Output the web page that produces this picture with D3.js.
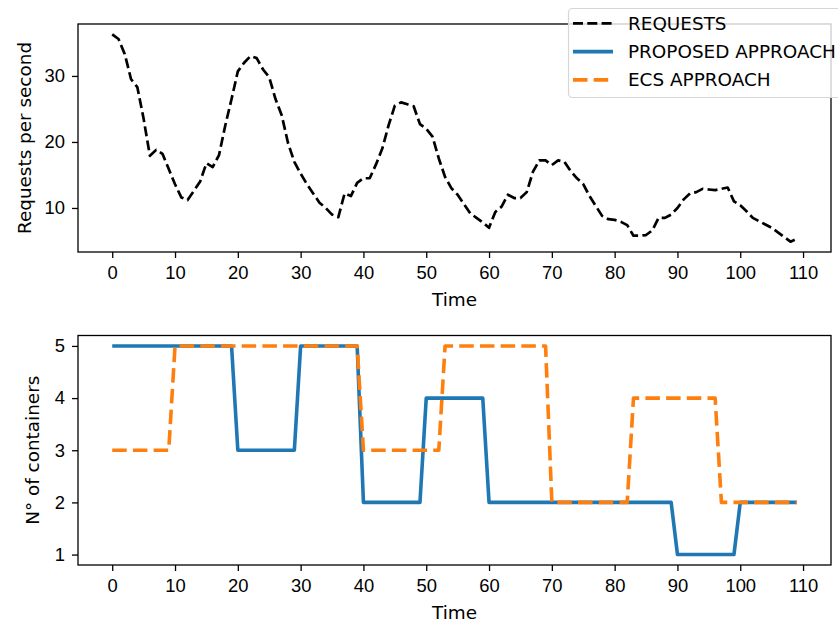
<!DOCTYPE html>
<html>
<head>
<meta charset="utf-8">
<script src="https://cdn.jsdelivr.net/npm/d3@7"></script>
<style>
    body { margin: 0; background: #fff; }
    svg { display: block; font-family: "DejaVu Sans", sans-serif; }
    .tick text { font-size: 18.4px; fill: #000; }
    .tick line { stroke: #000; stroke-width: 1.3; }
</style>
</head>
<body>
<div class="chart-container"></div>
<script>
/* data: time steps 0..109 */
const requests = [
    36.3, 35.6, 33.3, 29.5, 28.3, 23.5, 17.9, 18.8, 18.2, 15.9,
    13.6, 11.6, 11.2, 12.6, 14.0, 16.8, 16.2, 18.0, 22.5, 26.5,
    30.7, 32.0, 33.0, 32.7, 31.0, 29.8, 26.5, 24.0, 19.8, 17.0,
    15.2, 13.6, 12.2, 10.8, 10.0, 9.0, 8.6, 12.2, 11.8, 13.8,
    14.5, 14.5, 16.6, 19.0, 22.5, 25.5, 26.0, 25.7, 25.4, 22.7,
    22.0, 20.8, 17.5, 14.7, 13.0, 12.0, 10.6, 9.2, 8.5, 7.8,
    7.0, 9.4, 10.2, 12.0, 11.5, 11.5, 12.4, 15.5, 17.2, 17.2,
    16.5, 17.2, 17.0, 15.6, 14.5, 13.6, 11.8, 10.3, 8.8, 8.3,
    8.2, 7.9, 7.4, 5.8, 5.8, 5.9, 6.6, 8.5, 8.5, 9.0,
    10.0, 11.3, 12.2, 12.4, 12.9, 12.8, 12.7, 12.9, 13.1, 11.0,
    10.4, 9.5, 8.5, 8.0, 7.5, 7.0, 6.3, 5.6, 4.9, 5.3
];
const proposed = [
    5, 5, 5, 5, 5, 5, 5, 5, 5, 5,
    5, 5, 5, 5, 5, 5, 5, 5, 5, 5,
    3, 3, 3, 3, 3, 3, 3, 3, 3, 3,
    5, 5, 5, 5, 5, 5, 5, 5, 5, 5,
    2, 2, 2, 2, 2, 2, 2, 2, 2, 2,
    4, 4, 4, 4, 4, 4, 4, 4, 4, 4,
    2, 2, 2, 2, 2, 2, 2, 2, 2, 2,
    2, 2, 2, 2, 2, 2, 2, 2, 2, 2,
    2, 2, 2, 2, 2, 2, 2, 2, 2, 2,
    1, 1, 1, 1, 1, 1, 1, 1, 1, 1,
    2, 2, 2, 2, 2, 2, 2, 2, 2, 2
];
const ecs = [
    3, 3, 3, 3, 3, 3, 3, 3, 3, 3,
    5, 5, 5, 5, 5, 5, 5, 5, 5, 5,
    5, 5, 5, 5, 5, 5, 5, 5, 5, 5,
    5, 5, 5, 5, 5, 5, 5, 5, 5, 5,
    3, 3, 3, 3, 3, 3, 3, 3, 3, 3,
    3, 3, 3, 5, 5, 5, 5, 5, 5, 5,
    5, 5, 5, 5, 5, 5, 5, 5, 5, 5,
    2, 2, 2, 2, 2, 2, 2, 2, 2, 2,
    2, 2, 2, 4, 4, 4, 4, 4, 4, 4,
    4, 4, 4, 4, 4, 4, 4, 2, 2, 2,
    2, 2, 2, 2, 2, 2, 2, 2, 2, 2
];
const xTicks = [0, 10, 20, 30, 40, 50, 60, 70, 80, 90, 100, 110];
const topYTicks = [10, 20, 30];
const bottomYTicks = [1, 2, 3, 4, 5];
const legendLabels = ["REQUESTS", "PROPOSED APPROACH", "ECS APPROACH"];
const legendColors = ["#000000", "#1f77b4", "#ff7f0e"];

const svg_width = 838;
const svg_height = 624;

const svg = d3.select(".chart-container").append("svg")
    .attr("width", svg_width)
    .attr("height", svg_height);

/* matplotlib-style padded domain */
function padded(ext) {
    const r = ext[1] - ext[0];
    return [ext[0] - r * 0.05, ext[1] + r * 0.05];
}

const times = requests.map((d, i) => i);
const xScale = d3.scaleLinear().domain(padded(d3.extent(times))).range([78, 831]);

function drawPanel(top, bottom, yDomain, yTicks, yLabel, yLabelX) {
    const yScale = d3.scaleLinear().domain(yDomain).range([bottom, top]);
    const g = svg.append("g");

    /* x axis */
    g.append("g")
        .attr("transform", `translate(0,${bottom})`)
        .call(d3.axisBottom(xScale).tickValues(xTicks).tickSize(6).tickPadding(8).tickSizeOuter(0))
        .call(a => a.select(".domain").remove());

    /* y axis */
    g.append("g")
        .attr("transform", `translate(78,0)`)
        .call(d3.axisLeft(yScale).tickValues(yTicks).tickFormat(d3.format("d"))
            .tickSize(6).tickPadding(7).tickSizeOuter(0))
        .call(a => a.select(".domain").remove());

    /* frame */
    g.append("rect")
        .attr("x", 78).attr("y", top)
        .attr("width", 831 - 78).attr("height", bottom - top)
        .attr("fill", "none").attr("stroke", "#000").attr("stroke-width", 1.3);

    g.append("text")
        .attr("x", (78 + 831) / 2).attr("y", bottom + 54)
        .attr("text-anchor", "middle").attr("font-size", "18.4px")
        .text("Time");

    g.append("text")
        .attr("transform", `translate(${yLabelX},${(top + bottom) / 2}) rotate(-90)`)
        .attr("text-anchor", "middle").attr("font-size", "18.4px")
        .text(yLabel);

    return {g, yScale};
}

/* top panel: requests */
const topPanel = drawPanel(24, 252, padded(d3.extent(requests)), topYTicks, "Requests per second", 31);
const lineTop = d3.line().x((d, i) => xScale(i)).y(d => topPanel.yScale(d));
topPanel.g.append("path")
    .attr("d", lineTop(requests))
    .attr("fill", "none").attr("stroke", "#000")
    .attr("stroke-width", 2.7).attr("stroke-dasharray", "10,4.3")
    .attr("stroke-linejoin", "round");

/* bottom panel: containers */
const bottomPanel = drawPanel(335.5, 565, padded([1, 5]), bottomYTicks, "N° of containers", 39);
const lineBottom = d3.line().x((d, i) => xScale(i)).y(d => bottomPanel.yScale(d));
bottomPanel.g.append("path")
    .attr("d", lineBottom(proposed))
    .attr("fill", "none").attr("stroke", legendColors[1])
    .attr("stroke-width", 3.6).attr("stroke-linejoin", "round");
bottomPanel.g.append("path")
    .attr("d", lineBottom(ecs))
    .attr("fill", "none").attr("stroke", legendColors[2])
    .attr("stroke-width", 3.6).attr("stroke-dasharray", "14.5,6.2")
    .attr("stroke-linejoin", "round");

/* legend */
const legend = svg.append("g").attr("class", "legend");
legend.append("rect")
    .attr("x", 568.5).attr("y", 8.5)
    .attr("width", 300).attr("height", 89)
    .attr("rx", 4)
    .attr("fill", "#fff").attr("fill-opacity", 0.8)
    .attr("stroke", "#d6d6d6").attr("stroke-width", 1.2);

const dashes = ["10,4.3", null, "14.5,6.2"];
const widths = [2.7, 3.6, 3.6];
const items = legend.selectAll(".item").data(legendLabels).join("g")
    .attr("class", "item")
    .attr("transform", (d, i) => `translate(0,${23.3 + i * 28.3})`);
items.append("line")
    .attr("x1", 573).attr("x2", 613)
    .attr("stroke", (d, i) => legendColors[i])
    .attr("stroke-width", (d, i) => widths[i])
    .attr("stroke-dasharray", (d, i) => dashes[i]);
items.append("text")
    .attr("x", 628).attr("dy", "0.35em")
    .attr("font-size", "18.4px")
    .text(d => d);
</script>
</body>
</html>
